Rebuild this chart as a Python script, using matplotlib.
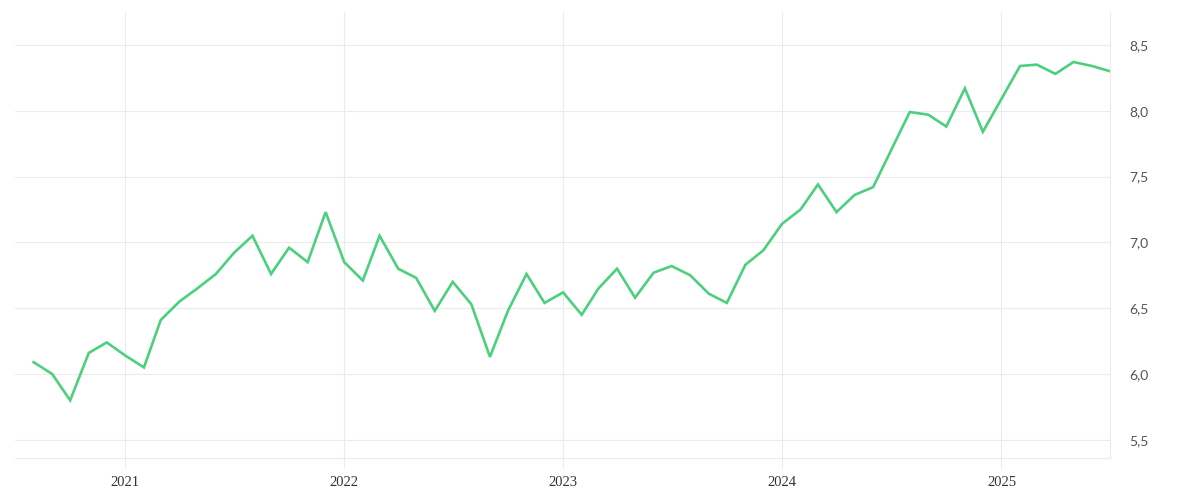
import pandas as pd
import matplotlib
matplotlib.use("Agg")
import matplotlib.pyplot as plt
import matplotlib.dates as mdates
from matplotlib.ticker import FuncFormatter

# ---------- DATA ----------
start_month = "2020-08-01"
values = [
    6.09, 6.00, 5.80, 6.16, 6.24,
    6.14, 6.05, 6.41, 6.55, 6.65, 6.76, 6.92, 7.05, 6.76, 6.96, 6.85, 7.23,
    6.85, 6.71, 7.05, 6.80, 6.73, 6.48, 6.70, 6.53, 6.13, 6.48, 6.76, 6.54,
    6.62, 6.45, 6.65, 6.80, 6.58, 6.77, 6.82, 6.75, 6.61, 6.54, 6.83, 6.94,
    7.14, 7.25, 7.44, 7.23, 7.36, 7.42, 7.70, 7.99, 7.97, 7.88, 8.17, 7.84,
    8.09, 8.34, 8.35, 8.28, 8.37, 8.34, 8.30,
]
dates = pd.date_range(start_month, periods=len(values), freq="MS")

y_ticks = [5.5, 6.0, 6.5, 7.0, 7.5, 8.0, 8.5]
x_years = [2021, 2022, 2023, 2024, 2025]

# ---------- PLOT ----------
grid_col = "#ebebeb"
text_col = "#555555"

fig = plt.figure(figsize=(12, 5), dpi=100)
ax = fig.add_axes([0.0125, 0.084, 0.9125, 0.892])

ax.plot(dates, values, color="#4cd07d", linewidth=1.9, solid_joinstyle="miter")

ax.set_xlim(pd.Timestamp("2020-07-01"), dates[-1])
ax.set_ylim(5.362, 8.75)

ax.set_xticks([pd.Timestamp(f"{y}-01-01") for y in x_years])
ax.xaxis.set_major_formatter(mdates.DateFormatter("%Y"))
ax.set_yticks(y_ticks)
ax.yaxis.set_major_formatter(FuncFormatter(lambda v, p: f"{v:.1f}".replace(".", ",")))
ax.yaxis.tick_right()

ax.grid(True, color=grid_col, linewidth=0.8)
ax.set_axisbelow(True)
for side in ["top", "left"]:
    ax.spines[side].set_visible(False)
ax.spines["right"].set_color(grid_col)
ax.spines["bottom"].set_color(grid_col)

ax.tick_params(axis="x", length=7, color=grid_col, labelcolor="#333333",
               labelsize=10.5, pad=6)
ax.tick_params(axis="y", length=0, labelcolor=text_col, labelsize=10, pad=14)
for lbl in ax.get_xticklabels():
    lbl.set_fontfamily("Liberation Serif")
for lbl in ax.get_yticklabels():
    lbl.set_fontfamily("Lato")

fig.savefig("out.png", dpi=100, facecolor="white")
